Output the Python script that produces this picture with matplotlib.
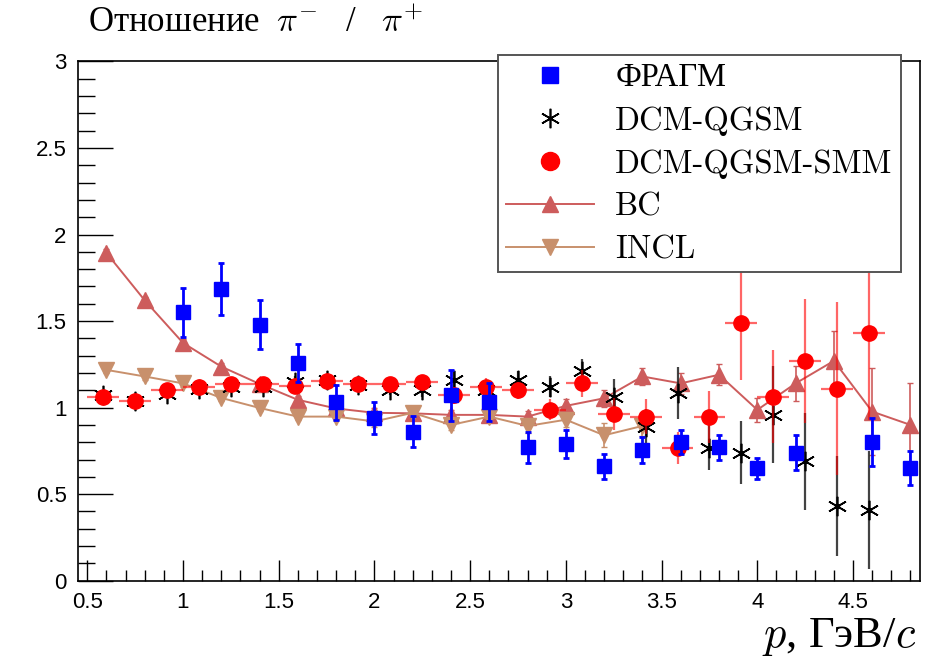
import numpy as np
import matplotlib
matplotlib.use("Agg")
import matplotlib.pyplot as plt
from matplotlib.ticker import MultipleLocator, FuncFormatter
from matplotlib.lines import Line2D

plt.rcParams['mathtext.fontset'] = 'cm'

# ---------------- data ----------------
# FRAGM experiment
fragm_x = [1.0, 1.2, 1.4, 1.6, 1.8, 2.0, 2.2, 2.4, 2.6, 2.8, 3.0, 3.2, 3.4, 3.6, 3.8, 4.0, 4.2, 4.6, 4.8]
fragm_y = [1.55, 1.685, 1.48, 1.26, 1.03, 0.94, 0.86, 1.07, 1.03, 0.77, 0.79, 0.66, 0.755, 0.80, 0.77, 0.65, 0.74, 0.80, 0.65]
fragm_e = [0.14, 0.15, 0.14, 0.11, 0.10, 0.09, 0.09, 0.15, 0.11, 0.09, 0.08, 0.07, 0.075, 0.07, 0.07, 0.06, 0.10, 0.14, 0.10]

# model bins (width 1/6 GeV/c)
dcm_x = [0.5833, 0.75, 0.9167, 1.0833, 1.25, 1.4167, 1.5833, 1.75, 1.9167, 2.0833, 2.25, 2.4167,
         2.5833, 2.75, 2.9167, 3.0833, 3.25, 3.4167, 3.5833, 3.75, 3.9167, 4.0833, 4.25, 4.4167, 4.5833]
dcm_xerr = 1.0 / 12.0
# DCM-QGSM
dcm_y = [1.07, 1.04, 1.08, 1.11, 1.12, 1.12, 1.15, 1.16, 1.13, 1.10, 1.10, 1.16,
         1.10, 1.16, 1.12, 1.21, 1.064, 0.89, 1.085, 0.767, 0.74, 0.958, 0.69, 0.43, 0.41]
dcm_e = [0.02, 0.02, 0.02, 0.02, 0.02, 0.02, 0.03, 0.03, 0.03, 0.03, 0.04, 0.05,
         0.05, 0.05, 0.06, 0.07, 0.10, 0.10, 0.15, 0.13, 0.18, 0.28, 0.28, 0.29, 0.34]
# DCM-QGSM-SMM
smm_y = [1.064, 1.04, 1.10, 1.12, 1.137, 1.135, 1.127, 1.156, 1.137, 1.137, 1.15, 1.07,
         1.12, 1.10, 0.987, 1.14, 0.963, 0.948, 0.767, 0.946, 1.49, 1.064, 1.27, 1.11, 1.43]
smm_e = [0.02, 0.02, 0.02, 0.02, 0.02, 0.02, 0.03, 0.03, 0.03, 0.03, 0.03, 0.05,
         0.05, 0.05, 0.06, 0.08, 0.09, 0.10, 0.09, 0.15, 0.33, 0.27, 0.36, 0.50, 0.50]

# BC
bc_x = [0.6, 0.8, 1.0, 1.2, 1.4, 1.6, 1.8, 2.0, 2.2, 2.4, 2.6, 2.8, 3.0, 3.2, 3.4, 3.6, 3.8, 4.0, 4.2, 4.4, 4.6, 4.8]
bc_y = [1.894, 1.62, 1.374, 1.237, 1.137, 1.045, 0.995, 0.97, 0.967, 0.958, 0.958, 0.948, 1.01, 1.054,
        1.18, 1.14, 1.19, 0.987, 1.14, 1.27, 0.977, 0.90]
bc_e = [0.02, 0.02, 0.02, 0.02, 0.02, 0.02, 0.02, 0.03, 0.03, 0.03, 0.03, 0.03, 0.04, 0.05,
        0.05, 0.06, 0.06, 0.07, 0.10, 0.17, 0.25, 0.24]

# INCL
incl_x = [0.6, 0.8, 1.0, 1.2, 1.4, 1.6, 1.8, 2.0, 2.2, 2.4, 2.6, 2.8, 3.0, 3.2, 3.4]
incl_y = [1.218, 1.18, 1.14, 1.056, 0.998, 0.948, 0.948, 0.92, 0.97, 0.90, 0.948, 0.894, 0.93, 0.84, 0.894]
incl_e = [0.02, 0.02, 0.02, 0.02, 0.02, 0.02, 0.02, 0.03, 0.03, 0.03, 0.03, 0.04, 0.04, 0.07, 0.06]

labels = ['ФРАГМ', 'DCM-QGSM', 'DCM-QGSM-SMM', 'BC', 'INCL']
title_text = 'Отношение  $\\pi^{-}$   /   $\\pi^{+}$'
xlabel_text = '$p$, ГэВ/$c$'

# ---------------- style ----------------
c_fragm = '#0000ff'
c_dcm = '#000000'
c_smm = '#ff0000'
c_bc = '#cd5c5c'
c_incl = '#c8906c'
serif = ['cmr10', 'Liberation Serif']

fig = plt.figure(figsize=(9.27, 6.64), dpi=100)
ax = fig.add_axes([0.0838, 0.1255, 0.9087, 0.7819])

# BC and INCL model lines
ax.errorbar(bc_x, bc_y, yerr=bc_e, color=c_bc, marker='^', ms=11, lw=1.4,
            elinewidth=1.2, capsize=2, zorder=2)
ax.errorbar(incl_x, incl_y, yerr=incl_e, color=c_incl, marker='v', ms=11, lw=1.4,
            elinewidth=1.2, capsize=2, zorder=2)

# DCM-QGSM
ax.errorbar(dcm_x, dcm_y, yerr=dcm_e, fmt='none', ecolor='#222222', elinewidth=1.6,
            alpha=0.85, zorder=3)
ax.plot(dcm_x, dcm_y, ls='none', marker=(6, 2, 0), ms=14, mec=c_dcm, mew=1.2, zorder=3)
ax.plot(dcm_x, dcm_y, ls='none', marker='o', ms=3, mfc=c_dcm, mec=c_dcm, zorder=3)

# DCM-QGSM-SMM
ax.errorbar(dcm_x, smm_y, xerr=dcm_xerr, yerr=smm_e, fmt='none', ecolor=c_smm,
            elinewidth=1.6, alpha=0.6, zorder=4)
ax.plot(dcm_x, smm_y, ls='none', marker='o', ms=11, mfc=c_smm, mec=c_smm, zorder=4)

# FRAGM
ax.errorbar(fragm_x, fragm_y, yerr=fragm_e, fmt='s', color=c_fragm, ms=10,
            elinewidth=2, capsize=2.5, capthick=2, zorder=5)

ax.set_xlim(0.45, 4.85)
ax.set_ylim(0, 3)
ax.xaxis.set_major_locator(MultipleLocator(0.5))
ax.xaxis.set_minor_locator(MultipleLocator(0.1))
ax.yaxis.set_major_locator(MultipleLocator(0.5))
ax.yaxis.set_minor_locator(MultipleLocator(0.1))
ax.tick_params(axis='x', which='major', direction='in', length=15, width=1, top=False,
               labelsize=16, pad=8)
ax.tick_params(axis='x', which='minor', direction='in', length=8, width=1, top=False)
ax.tick_params(axis='y', which='major', direction='in', length=25, width=1, right=False,
               labelsize=16, pad=8)
ax.tick_params(axis='y', which='minor', direction='in', length=12, width=1, right=False)
ax.yaxis.set_major_formatter(FuncFormatter(lambda v, p: f'{v:g}'))
ax.xaxis.set_major_formatter(FuncFormatter(lambda v, p: f'{v:g}'))
for lab in ax.get_xticklabels() + ax.get_yticklabels():
    lab.set_fontfamily('Liberation Sans')
for s in ax.spines.values():
    s.set_linewidth(1.2)

fig.text(0.095, 0.952, title_text, fontsize=25, family='Liberation Serif',
         ha='left', va='baseline')
fig.text(0.988, 0.025, xlabel_text, fontsize=32, family='Liberation Serif',
         ha='right', va='baseline')

# legend
hl = [Line2D([], [], ls='none', marker='s', ms=11, color=c_fragm),
      Line2D([], [], ls='none', marker=(6, 2, 0), ms=14, mec=c_dcm, mew=1.2),
      Line2D([], [], ls='none', marker='o', ms=13, color=c_smm),
      Line2D([], [], color=c_bc, marker='^', ms=12, lw=1.4),
      Line2D([], [], color=c_incl, marker='v', ms=12, lw=1.4)]
leg = fig.legend(hl, labels, loc='upper left', bbox_to_anchor=(0.537, 0.917),
                 bbox_transform=fig.transFigure, prop={'family': serif, 'size': 23.5},
                 frameon=True, fancybox=False, edgecolor='#555555', framealpha=1,
                 handlelength=2.7, handletextpad=0.65, labelspacing=0.42,
                 borderpad=0.25, borderaxespad=0, numpoints=1)
leg.get_frame().set_linewidth(1.4)
leg.set_zorder(10)

fig.savefig('out.png', dpi=100)
